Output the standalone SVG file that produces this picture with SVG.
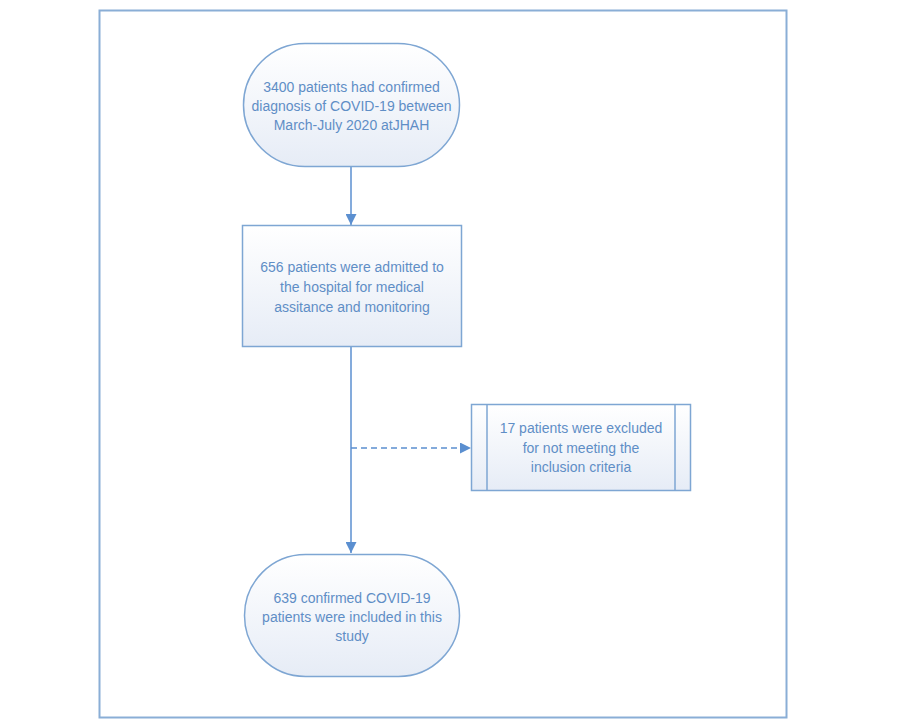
<svg xmlns="http://www.w3.org/2000/svg" width="901" height="725" viewBox="0 0 901 725">
<defs>
<linearGradient id="fill" x1="0" y1="0" x2="0" y2="1">
<stop offset="0" stop-color="#ffffff"/>
<stop offset="1" stop-color="#e6ecf6"/>
</linearGradient>
<marker id="arr" viewBox="0 0 10 10" refX="10" refY="5" markerWidth="11" markerHeight="11" markerUnits="userSpaceOnUse" orient="auto">
<path d="M0,0 L10,5 L0,10 z" fill="#5b8fd0"/>
</marker>
<style>
.shape{fill:url(#fill);stroke:#7ea6d3;stroke-width:1.5}
.t{font-family:"Liberation Sans",Arial,sans-serif;font-size:14px;fill:#5f8ec6;text-anchor:middle}
.c{stroke:#5b8fd0;stroke-width:1.5;fill:none}
</style>
</defs>
<rect width="901" height="725" fill="#ffffff"/>
<rect x="99.5" y="10.5" width="687" height="707" fill="none" stroke="#8aaed6" stroke-width="2"/>
<g id="connectors">
<line class="c" x1="351" y1="167" x2="351" y2="225" marker-end="url(#arr)"/>
<line class="c" x1="351" y1="347" x2="351" y2="553" marker-end="url(#arr)"/>
<line class="c" x1="351" y1="448" x2="471" y2="448" stroke-dasharray="6,4" marker-end="url(#arr)"/>
</g>
<g id="start">
<rect class="shape" x="243.5" y="43.5" width="216" height="123" rx="61.5" ry="61.5"/>
<text class="t" x="351.5" y="92">3400 patients had confirmed</text>
<text class="t" x="351.5" y="111">diagnosis of COVID-19 between</text>
<text class="t" x="351.5" y="130">March-July 2020 atJHAH</text>
</g>
<g id="admitted">
<rect class="shape" x="242.5" y="225.5" width="219" height="121"/>
<text class="t" x="352" y="272">656 patients were admitted to</text>
<text class="t" x="352" y="292">the hospital for medical</text>
<text class="t" x="352" y="312">assitance and monitoring</text>
</g>
<g id="excluded">
<rect class="shape" x="471.5" y="404.5" width="219" height="86"/>
<line x1="487" y1="404.5" x2="487" y2="490.5" stroke="#7ea6d3" stroke-width="1.5"/>
<line x1="675" y1="404.5" x2="675" y2="490.5" stroke="#7ea6d3" stroke-width="1.5"/>
<text class="t" x="581" y="433">17 patients were excluded</text>
<text class="t" x="581" y="453">for not meeting the</text>
<text class="t" x="581" y="472">inclusion criteria</text>
</g>
<g id="included">
<rect class="shape" x="244.5" y="554.5" width="215" height="122" rx="61" ry="61"/>
<text class="t" x="352" y="603">639 confirmed COVID-19</text>
<text class="t" x="352" y="622">patients were included in this</text>
<text class="t" x="352" y="641">study</text>
</g>
</svg>
